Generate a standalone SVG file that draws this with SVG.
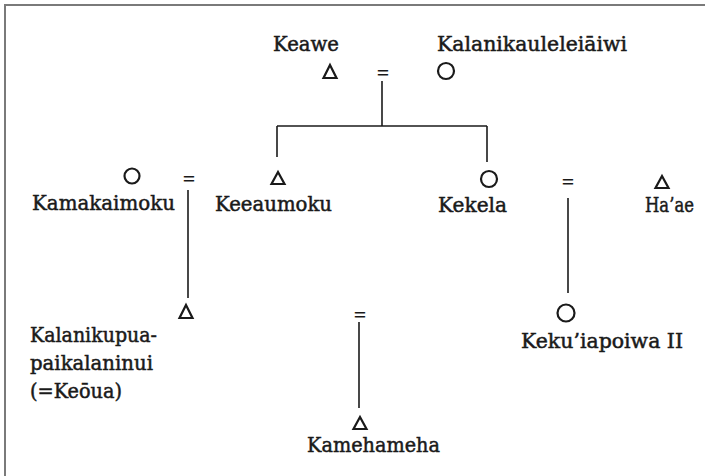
<svg xmlns="http://www.w3.org/2000/svg" width="705" height="476" viewBox="0 0 705 476">
<style>
  .t { font-family: "DejaVu Serif", "Liberation Serif", serif; font-size: 20px; fill: #1a1a1a; stroke: #1a1a1a; stroke-width: 0.5; }
  .eq { font-family: "Liberation Serif", serif; font-size: 22px; font-weight: bold; fill: #1a1a1a; text-anchor: middle; }
  .sym { fill: none; stroke: #1a1a1a; stroke-width: 2.2; }
  .ln { fill: none; stroke: #1a1a1a; stroke-width: 1.6; }
  .frame { fill: none; stroke: #7a7a7a; stroke-width: 2; }
</style>
<rect x="0" y="0" width="705" height="476" fill="#ffffff"/>
<path class="frame" d="M5,476 V5 H705"/>

<g id="connectors">
  <path class="ln" d="M382,81 V126"/>
  <path class="ln" d="M277,126 H487"/>
  <path class="ln" d="M277,126 V157"/>
  <path class="ln" d="M487,126 V162"/>
  <path class="ln" d="M188,190 V298"/>
  <path class="ln" d="M568,198 V293"/>
  <path class="ln" d="M359,322 V408"/>
</g>

<g id="marriage-keawe">
  <text class="eq" x="383" y="80">=</text>
</g>
<g id="marriage-kamakaimoku">
  <text class="eq" x="189" y="186">=</text>
</g>
<g id="marriage-kekela">
  <text class="eq" x="568" y="189">=</text>
</g>
<g id="marriage-kamehameha">
  <text class="eq" x="360" y="322">=</text>
</g>

<g id="keawe">
  <text class="t" x="273" y="51" textLength="66" lengthAdjust="spacingAndGlyphs">Keawe</text>
  <path class="sym" d="M330,65 L336.5,78 L323.5,78 Z"/>
</g>
<g id="kalanikauleleiaiwi">
  <text class="t" x="437" y="51" textLength="190" lengthAdjust="spacingAndGlyphs">Kalanikauleleiāiwi</text>
  <circle class="sym" cx="446" cy="71" r="8"/>
</g>
<g id="kamakaimoku">
  <circle class="sym" cx="132" cy="176" r="7.5"/>
  <text class="t" x="32" y="210" textLength="143" lengthAdjust="spacingAndGlyphs">Kamakaimoku</text>
</g>
<g id="keeaumoku">
  <path class="sym" d="M278,172 L284.5,184 L271.5,184 Z"/>
  <text class="t" x="215" y="211" textLength="117" lengthAdjust="spacingAndGlyphs">Keeaumoku</text>
</g>
<g id="kekela">
  <circle class="sym" cx="489" cy="179" r="8"/>
  <text class="t" x="438" y="212" textLength="69" lengthAdjust="spacingAndGlyphs">Kekela</text>
</g>
<g id="haae">
  <path class="sym" d="M662,176 L668.5,188 L655.5,188 Z"/>
  <text class="t" x="645" y="212" textLength="49" lengthAdjust="spacingAndGlyphs">Ha’ae</text>
</g>
<g id="kalanikupuapaikalaninui">
  <path class="sym" d="M186,305 L192.5,318 L179.5,318 Z"/>
  <text class="t" x="30" y="342" textLength="127" lengthAdjust="spacingAndGlyphs">Kalanikupua-</text>
  <text class="t" x="30" y="370" textLength="123" lengthAdjust="spacingAndGlyphs">paikalaninui</text>
  <text class="t" x="30" y="398" textLength="92" lengthAdjust="spacingAndGlyphs">(=Keōua)</text>
</g>
<g id="kekuiapoiwa">
  <circle class="sym" cx="566" cy="313" r="8.5"/>
  <text class="t" x="521" y="348" textLength="162" lengthAdjust="spacingAndGlyphs">Keku’iapoiwa II</text>
</g>
<g id="kamehameha">
  <path class="sym" d="M360,417 L366.5,429 L353.5,429 Z"/>
  <text class="t" x="307" y="452" textLength="133" lengthAdjust="spacingAndGlyphs">Kamehameha</text>
</g>
</svg>
